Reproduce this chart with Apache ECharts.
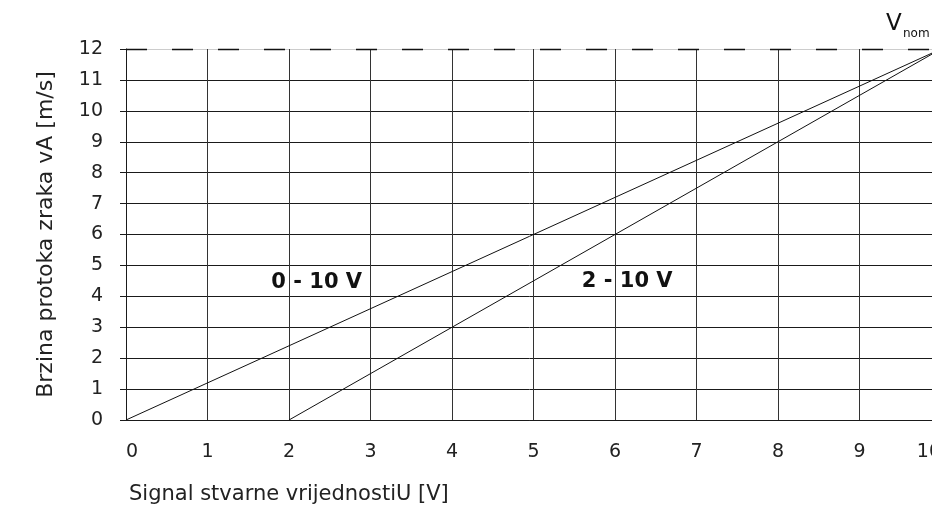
<!DOCTYPE html>
<html>
<head>
<meta charset="utf-8">
<script src="https://cdn.jsdelivr.net/npm/echarts@6/dist/echarts.min.js"></script>
<style>
  html, body { margin: 0; padding: 0; background: #fff; }
  #chart { width: 932px; height: 510px; }
</style>
</head>
<body>
<div id="chart"></div>
<script>
// ---- data ----
const xTicks = [0, 1, 2, 3, 4, 5, 6, 7, 8, 9, 10];
const yTicks = [0, 1, 2, 3, 4, 5, 6, 7, 8, 9, 10, 11, 12];
const seriesNames = ['0 - 10 V', '2 - 10 V'];
const line010 = [[0, 0], [10, 12]];
const line210 = [[2, 0], [10, 12]];
const vNom = 12;
const labelPos010 = [2.34, 4.45];
const labelPos210 = [6.15, 4.47];
const xTitle = 'Signal stvarne vrijednostiU [V]';
const yTitle = 'Brzina protoka zraka vA [m/s]';

const FONT = '"DejaVu Sans", "Liberation Sans", sans-serif';
const TXT = '#222';
const chart = echarts.init(document.getElementById('chart'), null, { renderer: 'canvas' });

const ySplitColors = yTicks.map(v => v === vNom ? 'rgba(0,0,0,0.2)' : '#1a1a1a');

function annot(text, pos) {
  return {
    coord: pos,
    value: text,
    symbol: 'circle',
    symbolSize: 0,
    label: {
      show: true, position: 'inside', formatter: text,
      fontFamily: FONT, fontWeight: 'bold', fontSize: 21, color: '#111'
    }
  };
}

chart.setOption({
  animation: false,
  backgroundColor: '#fff',
  grid: { left: 126, top: 49, width: 815, height: 371, containLabel: false, outerBoundsMode: 'none' },
  xAxis: {
    type: 'value', min: 0, max: 10, interval: 1,
    name: xTitle, nameLocation: 'start', nameGap: 0,
    nameTextStyle: { fontFamily: FONT, fontSize: 21, color: TXT, align: 'left', verticalAlign: 'top', padding: [64, 0, 0, 3] },
    axisLine: { show: true, lineStyle: { color: '#1a1a1a', width: 1 } },
    axisTick: { show: false },
    axisLabel: { fontFamily: FONT, fontSize: 19, color: TXT, margin: 23, alignMinLabel: 'left', alignMaxLabel: 'right' },
    splitLine: { show: true, lineStyle: { color: '#333', width: 1 } }
  },
  yAxis: {
    type: 'value', min: 0, max: 12, interval: 1,
    name: yTitle, nameLocation: 'middle', nameGap: 69, nameRotate: 90,
    nameTextStyle: { fontFamily: FONT, fontSize: 22, color: TXT },
    axisLine: { show: true, lineStyle: { color: '#1a1a1a', width: 1 } },
    axisTick: { show: true, length: 6, lineStyle: { color: '#1a1a1a' } },
    axisLabel: { fontFamily: FONT, fontSize: 19, color: TXT, margin: 23 },
    splitLine: { show: true, lineStyle: { color: ySplitColors, width: 1 } }
  },
  series: [
    {
      name: seriesNames[0], type: 'line', data: line010, showSymbol: false, symbol: 'none',
      lineStyle: { color: '#111', width: 1 }, clip: true,
      markPoint: { data: [annot(seriesNames[0], labelPos010)] },
      markLine: {
        symbol: 'none', silent: true, label: { show: false },
        lineStyle: { color: '#111', width: 1.3, type: [21, 25], dashOffset: 0 },
        data: [{ yAxis: vNom }]
      }
    },
    {
      name: seriesNames[1], type: 'line', data: line210, showSymbol: false, symbol: 'none',
      lineStyle: { color: '#111', width: 1 }, clip: true,
      markPoint: { data: [annot(seriesNames[1], labelPos210)] }
    }
  ],
  graphic: [
    {
      type: 'text', x: 886, y: 13,
      style: { text: 'V', fontFamily: FONT, fontSize: 23, fill: '#111' }
    },
    {
      type: 'text', x: 903, y: 28,
      style: { text: 'nom', fontFamily: FONT, fontSize: 12, fill: '#111' }
    }
  ]
});
</script>
</body>
</html>
